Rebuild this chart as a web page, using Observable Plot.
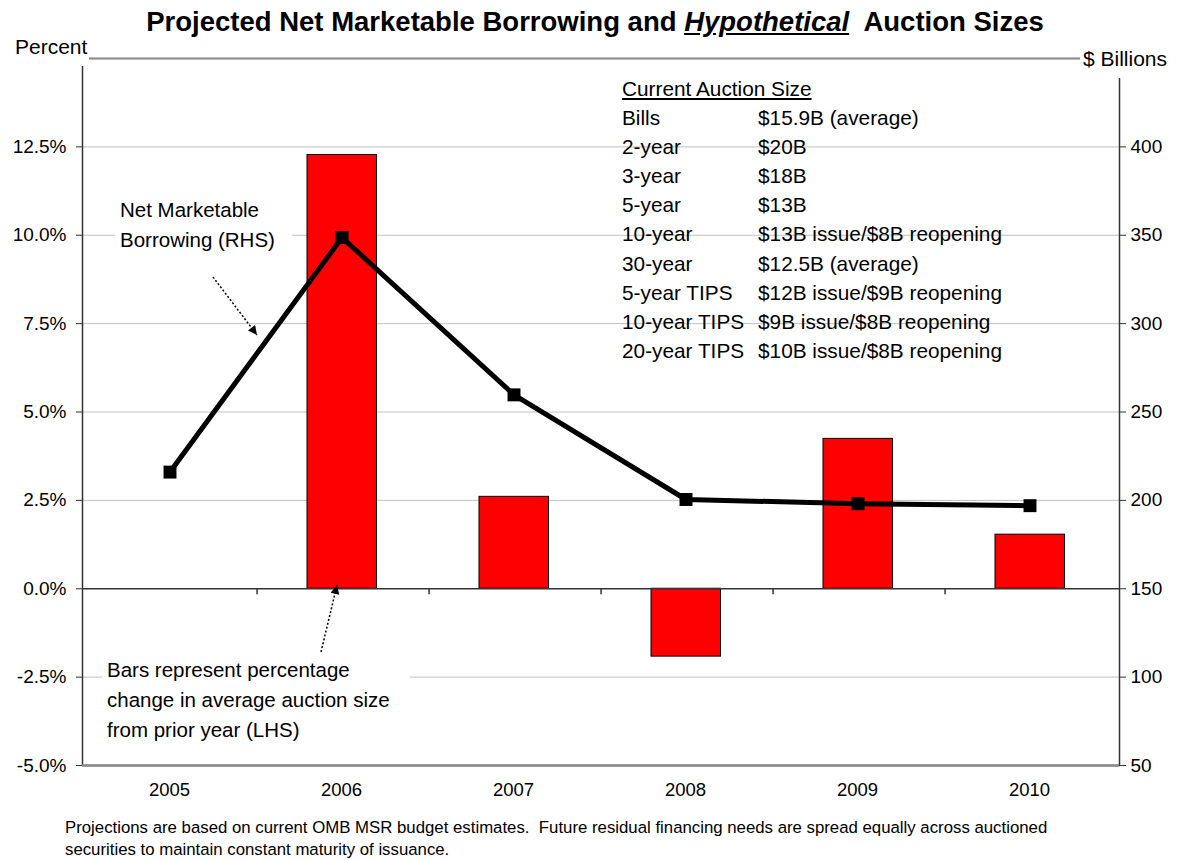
<!DOCTYPE html>
<html>
<head>
<meta charset="utf-8">
<script src="https://cdn.jsdelivr.net/npm/d3@7"></script>
<script src="https://cdn.jsdelivr.net/npm/@observablehq/plot@0.6"></script>
<style>
  html, body { margin: 0; padding: 0; background: #fff; }
  body { font-family: "Liberation Sans", Arial, sans-serif; color: #000; }
  #wrap { position: relative; width: 1190px; height: 860px; overflow: hidden; }
  #title { position: absolute; top: 5px; left: 0; width: 1190px; text-align: center;
           font-weight: bold; font-size: 27.5px; line-height: 34px; white-space: pre; }
  #chart { position: absolute; top: 40px; left: 0; }
  .lab { position: absolute; background: #fff; font-size: 21px; line-height: 26px; white-space: pre; }
  .note { position: absolute; background: #fff; font-size: 20.5px; line-height: 30px; white-space: pre; }
  #legend { position: absolute; left: 622px; top: 74px; font-size: 20.8px; line-height: 29.1px; }
  #legend .row { position: relative; height: 29.1px; white-space: pre; }
  #legend .c2 { position: absolute; left: 136px; top: 0; }
  #caption { position: absolute; left: 65px; top: 817px; font-size: 16.8px; line-height: 22px; white-space: nowrap; }
</style>
</head>
<body>
<div id="wrap">
  <div id="title">Projected Net Marketable Borrowing and <u><i>Hypothetical</i></u>  Auction Sizes</div>
  <div id="chart"></div>
  <div class="lab" style="left:10px; top:34px; padding:0 2px 6px 5px;">Percent</div>
  <div class="lab" style="left:1080px; top:46px; padding:0 6px 6px 3px;">$ Billions</div>
  <div id="legend"></div>
  <div class="note" style="left:115px; top:195px; padding:0 17px 0 5px;">Net Marketable
Borrowing (RHS)</div>
  <div class="note" style="left:102px; top:655px; padding:0 20px 0 5px;">Bars represent percentage
change in average auction size
from prior year (LHS)</div>
  <div id="caption">Projections are based on current OMB MSR budget estimates.&nbsp; Future residual financing needs are spread equally across auctioned<br>securities to maintain constant maturity of issuance.</div>
</div>
<script>
// ---- data ----
const years = ["2005", "2006", "2007", "2008", "2009", "2010"];
const pctChange = [null, 12.27, 2.60, -1.92, 4.24, 1.53];        // LHS, percent
const borrowing = [216, 348.7, 259.7, 200.5, 198.1, 197.0];      // RHS, $ billions
const leftTicks = [-5, -2.5, 0, 2.5, 5, 7.5, 10, 12.5];
const rightTickLabels = [50, 100, 150, 200, 250, 300, 350, 400];
const gridLevels = [-2.5, 2.5, 5, 7.5, 10, 12.5];
const legendHeader = "Current Auction Size";
const legendSecurities = ["Bills", "2-year", "3-year", "5-year", "10-year", "30-year", "5-year TIPS", "10-year TIPS", "20-year TIPS"];
const legendSizes = ["$15.9B (average)", "$20B", "$18B", "$13B", "$13B issue/$8B reopening", "$12.5B (average)", "$12B issue/$9B reopening", "$9B issue/$8B reopening", "$10B issue/$8B reopening"];

// RHS ($B) <-> LHS (%) mapping of the dual axis: 150 ↔ 0%, 50 ↔ -5%
const toPct = b => (b - 150) / 20;
const toBil = p => Math.round(p * 20 + 150);

const data = years.map((year, i) => ({ year, pct: pctChange[i], bil: borrowing[i] }));
const barData = data.filter(d => d.pct != null);

const W = 1190, H = 765, mL = 82, mR = 71, mT = 18, mB = 40;
const step = (W - mL - mR) / years.length;

const plot = Plot.plot({
  width: W, height: H,
  marginLeft: mL, marginRight: mR, marginTop: mT, marginBottom: mB,
  style: { fontFamily: "'Liberation Sans', Arial, sans-serif", background: "#fff", color: "#000", overflow: "visible" },
  x: { type: "band", domain: years, padding: 0, label: null },
  y: { domain: [-5, 15], label: null },
  marks: [
    Plot.ruleY(gridLevels, { stroke: "#c0c0c0", strokeWidth: 1 }),
    Plot.frame({ stroke: "#333", strokeWidth: 1.5 }),
    Plot.ruleY([15], { stroke: "#8c8c8c", strokeWidth: 1.5 }),
    Plot.ruleY([-5], { stroke: "#8c8c8c", strokeWidth: 2.5 }),
    Plot.barY(barData, { x: "year", y: "pct", fill: "#ff0000", stroke: "#000", strokeWidth: 1, insetLeft: 50, insetRight: 52.5 }),
    Plot.ruleY([0], { stroke: "#333", strokeWidth: 1.5 }),
    Plot.ruleX(years.slice(1), { x: d => d, y1: 0, y2: -0.17, dx: -step / 2, stroke: "#333", strokeWidth: 1.5 }),
    Plot.line(data, { x: "year", y: d => toPct(d.bil), stroke: "#000", strokeWidth: 5, dx: -1.5 }),
    Plot.dot(data, { x: "year", y: d => toPct(d.bil), symbol: "square", r: 7.3, fill: "#000", stroke: "none", dx: -1.5 }),
    Plot.axisY({ anchor: "left", ticks: leftTicks, tickFormat: d => d.toFixed(1) + "%", tickSize: 6, tickPadding: 10, fontSize: 19, label: null, stroke: "#333" }),
    Plot.axisY({ anchor: "right", ticks: rightTickLabels.map(toPct), tickFormat: toBil, tickSize: 6, tickPadding: 5, fontSize: 19, label: null, stroke: "#333" }),
    Plot.axisX({ tickSize: 0, tickPadding: 17, fontSize: 18.5, label: null, dx: -2 })
  ]
});
document.getElementById("chart").appendChild(plot);

// ---- annotation arrows (dotted, filled head) ----
const svg = d3.select(plot);
const defs = svg.append("defs");
defs.append("marker")
  .attr("id", "ah").attr("viewBox", "0 0 10 10").attr("refX", 10).attr("refY", 5)
  .attr("markerWidth", 11).attr("markerHeight", 9).attr("markerUnits", "userSpaceOnUse")
  .attr("orient", "auto")
  .append("path").attr("d", "M0,0L10,5L0,10Z").attr("fill", "#000");
const arrows = [
  [213, 237, 257, 295],
  [321, 612, 337, 545]
];
svg.append("g").selectAll("line").data(arrows).join("line")
  .attr("x1", d => d[0]).attr("y1", d => d[1]).attr("x2", d => d[2]).attr("y2", d => d[3])
  .attr("stroke", "#000").attr("stroke-width", 1.5).attr("stroke-dasharray", "2,2")
  .attr("marker-end", "url(#ah)");

// ---- legend table ----
const lg = d3.select("#legend");
lg.append("div").attr("class", "row").append("span").style("text-decoration", "underline").text(legendHeader);
legendSecurities.forEach((s, i) => {
  const r = lg.append("div").attr("class", "row");
  r.append("span").text(s);
  r.append("span").attr("class", "c2").text(legendSizes[i]);
});
</script>
</body>
</html>
